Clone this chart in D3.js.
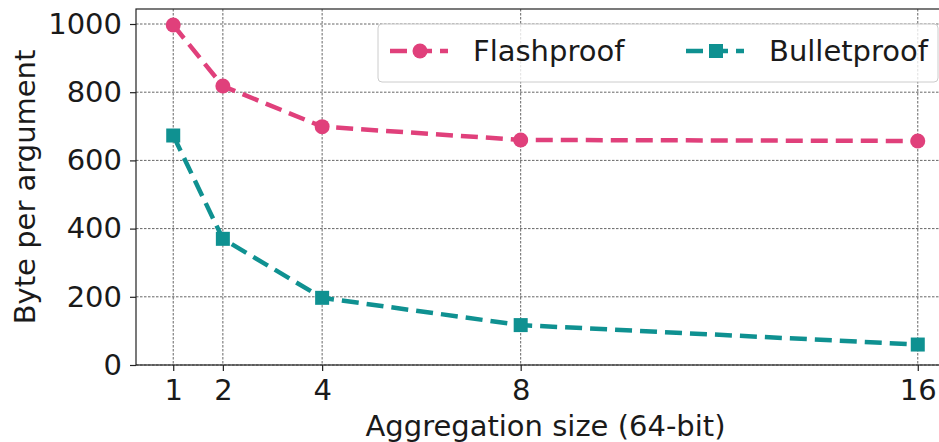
<!DOCTYPE html>
<html>
<head>
<meta charset="utf-8">
<style>
  body { margin: 0; background: #fff; }
  text { font-family: "DejaVu Sans", sans-serif; fill: #1a1a1a; }
</style>
</head>
<body>
<svg width="939" height="442"></svg>
<script src="https://d3js.org/d3.v7.min.js"></script>
<script>

	// Data.
	var sizes = [1, 2, 4, 8, 16];
	var flashproof = [997, 818, 699, 660, 657];
	var bulletproof = [673, 370, 197, 117, 60];
	var yTicks = [0, 200, 400, 600, 800, 1000];
	var seriesNames = ["Flashproof", "Bulletproof"];

	var svg = d3.select("svg"),
		plotLeft = 136, plotTop = 9, plotBottom = 365, plotRight = 955,
		fontSize = 29;

	var x = d3.scaleLinear().domain([0.25, 16.75]).range([plotLeft, plotRight]);
	var y = d3.scaleLinear().domain([0, 1044]).range([plotBottom, plotTop]);

	var pink = "#e0407b", teal = "#0f9191";

	// Grid lines.
	var grid = svg.append("g")
		.attr("stroke", "#666")
		.attr("stroke-width", 1)
		.attr("stroke-dasharray", "2.5,1.5");
	grid.selectAll(".gx").data(sizes).enter().append("line")
		.attr("x1", function(d) { return x(d); })
		.attr("x2", function(d) { return x(d); })
		.attr("y1", plotTop).attr("y2", plotBottom);
	grid.selectAll(".gy").data(yTicks).enter().append("line")
		.attr("y1", function(d) { return y(d); })
		.attr("y2", function(d) { return y(d); })
		.attr("x1", plotLeft).attr("x2", plotRight);

	// Axes.
	var xAxis = svg.append("g")
		.attr("transform", "translate(0," + plotBottom + ")")
		.call(d3.axisBottom(x).tickValues(sizes).tickSize(6).tickPadding(8).tickFormat(d3.format("d")));
	var yAxis = svg.append("g")
		.attr("transform", "translate(" + plotLeft + ",0)")
		.call(d3.axisLeft(y).tickValues(yTicks).tickSize(6).tickPadding(8).tickFormat(d3.format("d")));
	[xAxis, yAxis].forEach(function(a) {
		a.select(".domain").remove();
		a.selectAll("line").attr("stroke", "#222").attr("stroke-width", 1.2);
		a.selectAll("text").attr("font-size", fontSize).attr("fill", "#1a1a1a")
			.attr("font-family", "DejaVu Sans");
	});

	// Frame.
	svg.append("rect")
		.attr("x", plotLeft).attr("y", plotTop)
		.attr("width", plotRight - plotLeft).attr("height", plotBottom - plotTop)
		.attr("fill", "none").attr("stroke", "#222").attr("stroke-width", 1.2);

	// Series.
	var line = d3.line()
		.x(function(d, i) { return x(sizes[i]); })
		.y(function(d) { return y(d); });

	function drawSeries(vals, color, shape) {
		svg.append("path")
			.attr("d", line(vals))
			.attr("fill", "none")
			.attr("stroke", color)
			.attr("stroke-width", 4.5)
			.attr("stroke-dasharray", "17,8");
		vals.forEach(function(v, i) {
			if (shape == "circle") {
				svg.append("circle").attr("cx", x(sizes[i])).attr("cy", y(v)).attr("r", 7.5).attr("fill", color);
			} else {
				svg.append("rect").attr("x", x(sizes[i]) - 7).attr("y", y(v) - 7)
					.attr("width", 14).attr("height", 14).attr("fill", color);
			}
		});
	}
	drawSeries(flashproof, pink, "circle");
	drawSeries(bulletproof, teal, "square");

	// Legend.
	var lg = svg.append("g");
	lg.append("rect")
		.attr("x", 378).attr("y", 24).attr("width", 560).attr("height", 58)
		.attr("rx", 4)
		.attr("fill", "#fff").attr("fill-opacity", 0.8)
		.attr("stroke", "#ccc").attr("stroke-width", 1);
	var items = [
		{ name: seriesNames[0], color: pink, shape: "circle", x0: 390, tx: 473 },
		{ name: seriesNames[1], color: teal, shape: "square", x0: 686, tx: 769 }
	];
	items.forEach(function(it) {
		lg.append("line")
			.attr("x1", it.x0).attr("x2", it.x0 + 58)
			.attr("y1", 51).attr("y2", 51)
			.attr("stroke", it.color).attr("stroke-width", 4.5)
			.attr("stroke-dasharray", "17,8");
		if (it.shape == "circle") {
			lg.append("circle").attr("cx", it.x0 + 30).attr("cy", 51).attr("r", 7.5).attr("fill", it.color);
		} else {
			lg.append("rect").attr("x", it.x0 + 23).attr("y", 44).attr("width", 14).attr("height", 14).attr("fill", it.color);
		}
		lg.append("text")
			.attr("x", it.tx).attr("y", 61)
			.attr("font-size", fontSize)
			.text(it.name);
	});

	// Axis titles.
	svg.append("text")
		.attr("x", (plotLeft + plotRight) / 2).attr("y", 436)
		.attr("text-anchor", "middle")
		.attr("font-size", fontSize)
		.text("Aggregation size (64-bit)");
	svg.append("text")
		.attr("transform", "translate(35," + ((plotTop + plotBottom) / 2) + ") rotate(-90)")
		.attr("text-anchor", "middle")
		.attr("font-size", fontSize)
		.text("Byte per argument");

</script>
</body>
</html>
